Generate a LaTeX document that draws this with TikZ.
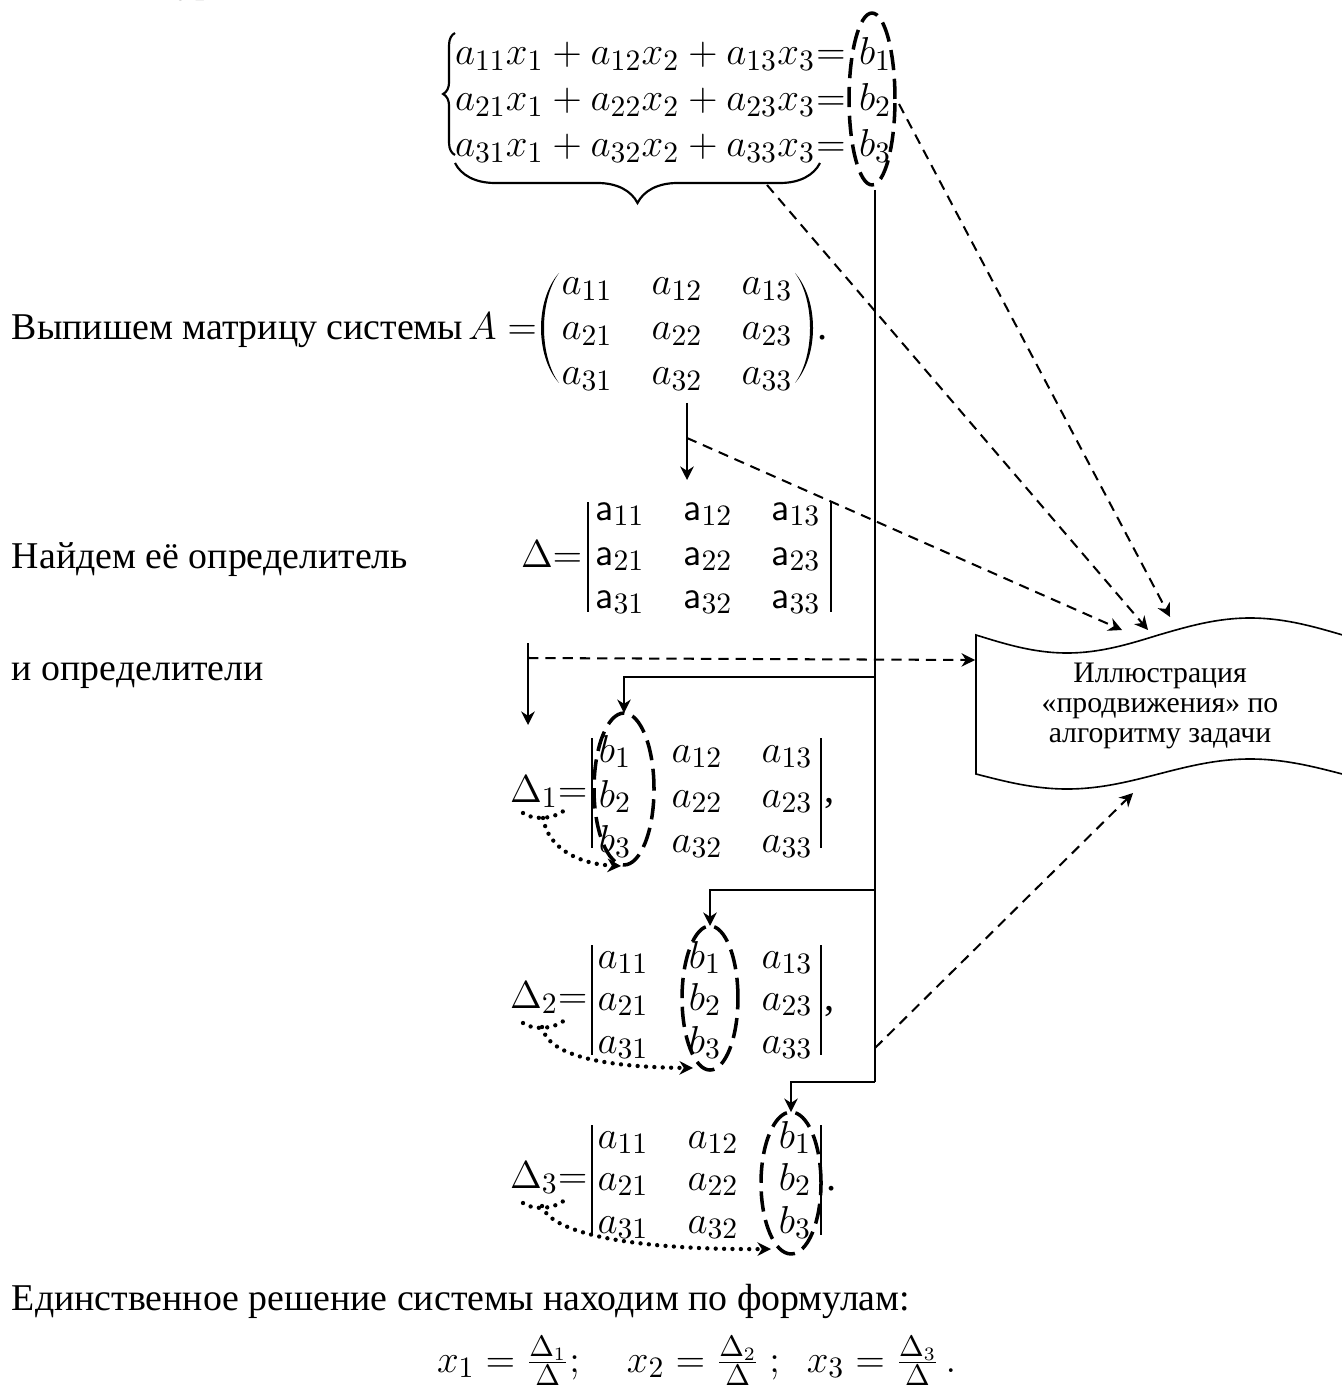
\documentclass[tikz,border=0pt]{standalone}
\usepackage[no-math]{fontspec}
\setmainfont{Liberation Serif}
\usetikzlibrary{arrows.meta,decorations.pathreplacing,shapes.geometric}
\begin{document}
\begin{tikzpicture}[x=0.37pt,y=-0.37pt,
  every node/.style={inner sep=0pt,outer sep=0pt},
  txt/.style={font=\fontsize{14}{17}\selectfont},
  eq/.style={font=\fontsize{15}{18}\selectfont},
  boxtext/.style={font=\fontsize{11}{11.1}\selectfont,align=center},
  tip/.style={-{Stealth[length=5pt,width=5pt,inset=1.6pt]}},
  plainline/.style={line width=0.8pt},
  conn/.style={plainline,tip},
  dashconn/.style={line width=0.75pt,dash pattern=on 3.8pt off 2.6pt,tip},
  oval/.style={draw,ellipse,line width=1.3pt,dash pattern=on 7.5pt off 3.2pt},
  dotarc/.style={line width=1.6pt,line cap=round,dash pattern=on 0pt off 3.1pt},
  dotconn/.style={dotarc,tip},
  bar/.style={line width=1pt},
  brace/.style={line width=0.8pt,decorate},
  paren/.style={fill=black},
]
\useasboundingbox (0,0) rectangle (1341,1389);

% tail of the preceding line of text
\node[txt,anchor=base west] (prev) at (177,-7) {ур};

% ---------- system of equations ----------
\draw[brace,decoration={brace,amplitude=4.4pt}] (455,155) -- (455,33);
\node[eq,anchor=base west] (r1) at (455,65)  {$a_{11}x_1+a_{12}x_2+a_{13}x_3$};
\node[eq,anchor=base west] (r2) at (455,111) {$a_{21}x_1+a_{22}x_2+a_{23}x_3$};
\node[eq,anchor=base west] (r3) at (455,157) {$a_{31}x_1+a_{32}x_2+a_{33}x_3$};
\foreach \r/\y in {1/65,2/111,3/157}{
  \node[eq,anchor=base] (eqs\r) at (831,\y) {$=$};
  \node[eq,anchor=base west] (rhs\r) at (859,\y) {$b_{\r}$};
}
\draw[brace,decoration={brace,mirror,amplitude=14.8pt}] (455,163) -- (820,163);
\node[oval,minimum width=17pt,minimum height=63.6pt] (E0) at (872,99) {};

% ---------- matrix A ----------
\node[txt,anchor=base west] (t1) at (12,340) {Выпишем матрицу системы};
\node[eq,anchor=base west] (Aeq) at (468,340) {$A=$};
% round brackets of the matrix
\fill[paren] (559,273) .. controls (535,300) and (535,356) .. (559,383)
  .. controls (539,356) and (539,300) .. (559,273) -- cycle;
\fill[paren] (795,273) .. controls (819,300) and (819,356) .. (795,383)
  .. controls (815,356) and (815,300) .. (795,273) -- cycle;
\node[eq,anchor=base] (Adot) at (823,340) {.};
\foreach \r/\y in {1/295,2/340,3/385}{
  \foreach \c/\x in {1/587,2/677,3/767}{
    \node[eq,anchor=base] (A\r\c) at (\x,\y) {$a_{\r\c}$};
  }
}

% ---------- determinant ----------
\node[txt,anchor=base west] (t2) at (12,568) {Найдем её определитель};
\node[eq,anchor=base west] (D) at (521,567) {$\Delta{=}$};
\draw[bar] (588,502) -- (588,612);
\draw[bar] (831,502) -- (831,612);
\foreach \r/\y in {1/520,2/565,3/608}{
  \foreach \c/\x in {1/620,2/708,3/796}{
    \node[eq,anchor=base] (D\r\c) at (\x,\y) {$\mathsf{a}_{\r\c}$};
  }
}

\node[txt,anchor=base west] (t3) at (12,680) {и определители};

% ---------- Delta_1 ----------
\node[eq,anchor=base west] (D1) at (510,802) {$\Delta_1{=}$};
\draw[bar] (592,738) -- (592,848);
\draw[bar] (821,738) -- (821,848);
\node[eq,anchor=base] (d1c) at (830,802) {,};
\foreach \r/\y in {1/762,2/807,3/852}{
  \node[eq,anchor=base] (P\r1) at (615,\y) {$b_{\r}$};
  \node[eq,anchor=base] (P\r2) at (697,\y) {$a_{\r2}$};
  \node[eq,anchor=base] (P\r3) at (787,\y) {$a_{\r3}$};
}
\node[oval,minimum width=22.2pt,minimum height=56.2pt] (E1) at (624,789) {};

% ---------- Delta_2 ----------
\node[eq,anchor=base west] (D2) at (510,1008) {$\Delta_2{=}$};
\draw[bar] (592,945) -- (592,1055);
\draw[bar] (821,945) -- (821,1055);
\node[eq,anchor=base] (d2c) at (830,1010) {,};
\foreach \r/\y in {1/968,2/1010,3/1053}{
  \node[eq,anchor=base] (Q\r1) at (623,\y) {$a_{\r1}$};
  \node[eq,anchor=base] (Q\r2) at (705,\y) {$b_{\r}$};
  \node[eq,anchor=base] (Q\r3) at (787,\y) {$a_{\r3}$};
}
\node[oval,minimum width=20.7pt,minimum height=53.3pt] (E2) at (710,998) {};

% ---------- Delta_3 ----------
\node[eq,anchor=base west] (D3) at (510,1188) {$\Delta_3{=}$};
\draw[bar] (592,1125) -- (592,1235);
\draw[bar] (821,1125) -- (821,1235);
\node[eq,anchor=base] (d3p) at (832,1190) {.};
\foreach \r/\y in {1/1148,2/1190,3/1233}{
  \node[eq,anchor=base] (S\r1) at (623,\y) {$a_{\r1}$};
  \node[eq,anchor=base] (S\r2) at (713,\y) {$a_{\r2}$};
  \node[eq,anchor=base] (S\r3) at (795,\y) {$b_{\r}$};
}
\node[oval,minimum width=22.2pt,minimum height=52.5pt] (E3) at (791,1183) {};

% ---------- closing formulas ----------
\node[txt,anchor=base west] (t4) at (12,1310) {Единственное решение системы находим по формулам:};
\node[eq,anchor=base west] (sol) at (437,1372)
  {$x_1=\frac{\Delta_1}{\Delta};\quad x_2=\frac{\Delta_2}{\Delta}\ ;\ \ x_3=\frac{\Delta_3}{\Delta}\,.$};

% ---------- illustration banner (right edge runs off the page) ----------
\draw[line width=0.6pt] (976,635) sin (1067,653) cos (1158.5,635) sin (1250,618) cos (1346,636)
  -- (1346,775) sin (1250,759) cos (1158.5,774) sin (1067,789) cos (976,774) -- cycle;
\node[boxtext] (ill) at (1160,706) {Иллюстрация\\«продвижения» по\\алгоритму задачи};

% ---------- solid flow ----------
\coordinate (a0) at (687,403);
\coordinate (a1) at (687,480);
\draw[conn] (a0) -- (a1);
\coordinate (l0) at (528,643);
\coordinate (l1) at (528,725);
\draw[conn] (l0) -- (l1);
\coordinate (j0) at (875,190);
\coordinate (j1) at (875,677);
\coordinate (j2) at (875,890);
\coordinate (j3) at (875,1082);
\draw[plainline] (j0) -- (j3);
\draw[conn] (j1) -| (E1.north);
\draw[conn] (j2) -| (E2.north);
\draw[conn] (j3) -| (E3.north);

% ---------- dashed links to the banner ----------
\coordinate (s1) at (687,438);
\coordinate (s2) at (767,185);
\coordinate (s3) at (899,104);
\coordinate (s4) at (528,658);
\coordinate (s5) at (875,1048);
\coordinate (g1) at (1122,630);
\coordinate (g2) at (1148,630);
\coordinate (g3) at (1170,617);
\coordinate (g4) at (975,660);
\coordinate (g5) at (1133,793);
\draw[dashconn] (s1) -- (g1);
\draw[dashconn] (s2) -- (g2);
\draw[dashconn] (s3) -- (g3);
\draw[dashconn] (s4) -- (g4);
\draw[dashconn] (s5) -- (g5);

% ---------- dotted hints from each Delta_i to its column ----------
\draw[dotarc] (523,813) .. controls (535,821) and (556,819) .. (567,808);
\draw[dotconn] (543,818) .. controls (548,848) and (578,864) .. (621,866);
\draw[dotarc] (523,1023) .. controls (535,1031) and (556,1029) .. (567,1018);
\draw[dotconn] (542,1027) .. controls (548,1055) and (600,1067) .. (693,1068);
\draw[dotarc] (523,1203) .. controls (535,1211) and (556,1209) .. (567,1198);
\draw[dotconn] (542,1206) .. controls (552,1235) and (640,1250) .. (771,1249);
\end{tikzpicture}
\end{document}
